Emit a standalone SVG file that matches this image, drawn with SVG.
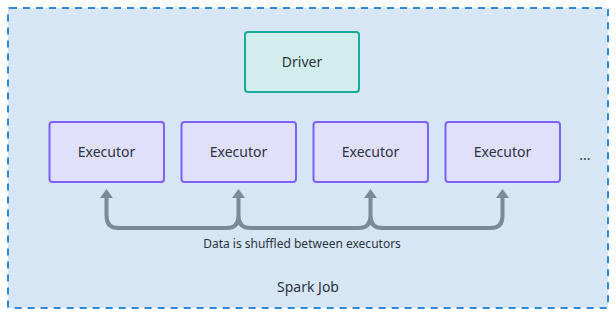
<svg xmlns="http://www.w3.org/2000/svg" width="616" height="316" viewBox="0 0 616 316">
<style>
text{font-family:"Noto Sans","DejaVu Sans",sans-serif;fill:#2b3442;text-anchor:middle}
.lbl{font-size:14px}
.exec{fill:#e0e0fb;stroke:#7b61f5;stroke-width:2}
.conn{fill:none;stroke:#7b8a97;stroke-width:4;stroke-linecap:round;stroke-linejoin:round}
.head{fill:#7b8a97}
</style>
<g id="spark-job">
<rect x="8" y="8" width="600" height="300" fill="#d6e6f5" stroke="#2e8ad6" stroke-width="2" stroke-dasharray="7,6" rx="2"/>
<text class="lbl" x="308" y="292">Spark Job</text>
</g>
<g id="driver">
<rect x="245" y="32" width="114" height="60" rx="3" fill="#d2eeec" stroke="#17ab9a" stroke-width="2"/>
<text class="lbl" x="302" y="67">Driver</text>
</g>
<g id="executor1">
<rect class="exec" x="49.5" y="122" width="114.5" height="60" rx="3"/>
<text class="lbl" x="106.5" y="157">Executor</text>
</g>
<g id="executor2">
<rect class="exec" x="181.5" y="122" width="114.5" height="60" rx="3"/>
<text class="lbl" x="238.5" y="157">Executor</text>
</g>
<g id="executor3">
<rect class="exec" x="313.5" y="122" width="114.5" height="60" rx="3"/>
<text class="lbl" x="370.5" y="157">Executor</text>
</g>
<g id="executor4">
<rect class="exec" x="445.5" y="122" width="114.5" height="60" rx="3"/>
<text class="lbl" x="502.5" y="157">Executor</text>
</g>
<g id="more">
<text class="lbl" x="585" y="160">...</text>
</g>
<g id="connectors">
<path class="conn" d="M106.5,197 V216 Q106.5,228 118.5,228 H226.5 Q238.5,228 238.5,216 V197 M238.5,216 Q238.5,228 250.5,228 H358.5 Q370.5,228 370.5,216 V197 M370.5,216 Q370.5,228 382.5,228 H490.5 Q502.5,228 502.5,216 V197"/>
<path class="head" d="M106.5,189 L113,198 L100,198 Z"/>
<path class="head" d="M238.5,189 L245,198 L232,198 Z"/>
<path class="head" d="M370.5,189 L377,198 L364,198 Z"/>
<path class="head" d="M502.5,189 L509,198 L496,198 Z"/>
<text x="302" y="248" font-size="12">Data is shuffled between executors</text>
</g>
</svg>
